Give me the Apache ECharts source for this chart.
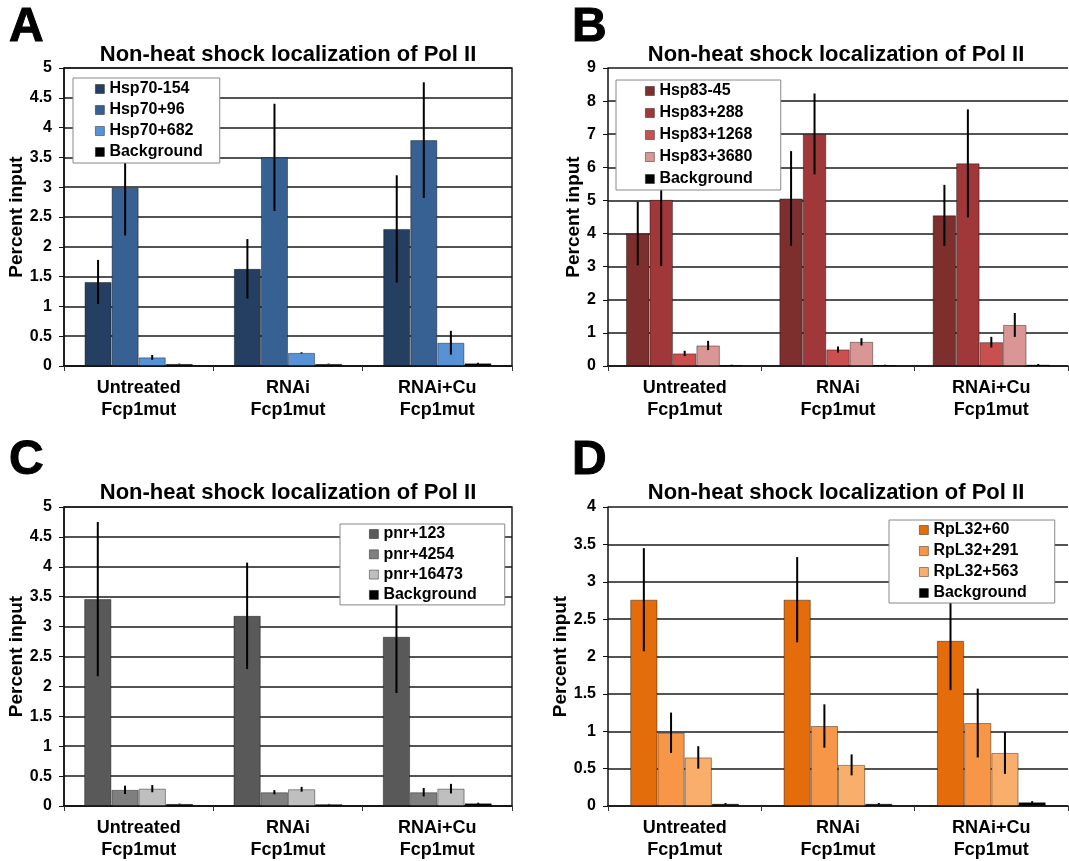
<!DOCTYPE html>
<html>
<head>
<meta charset="utf-8">
<script src="https://cdn.jsdelivr.net/npm/echarts@6/dist/echarts.min.js"></script>
<style>
  html, body { margin: 0; padding: 0; background: #fff; }
  #chart { width: 1069px; height: 861px; }
</style>
</head>
<body>
<div id="chart"></div>
<script>
// categories shared by all four panels
const categories = ['Untreated\nFcp1mut', 'RNAi\nFcp1mut', 'RNAi+Cu\nFcp1mut'];
const chartTitle = 'Non-heat shock localization of Pol II';

// A: Hsp70
const hsp70Names = ['Hsp70-154', 'Hsp70+96', 'Hsp70+682', 'Background'];
const hsp70Values = [[1.41, 1.63, 2.30], [2.99, 3.50, 3.79], [0.145, 0.22, 0.39], [0.035, 0.035, 0.045]];
const hsp70Errors = [[0.37, 0.50, 0.90], [0.80, 0.90, 0.97], [0.04, 0.01, 0.20], [0.005, 0.005, 0.01]];

// B: Hsp83
const hsp83Names = ['Hsp83-45', 'Hsp83+288', 'Hsp83+1268', 'Hsp83+3680', 'Background'];
const hsp83Values = [[4.0, 5.06, 4.55], [5.02, 7.01, 6.12], [0.38, 0.50, 0.72], [0.62, 0.73, 1.24], [0.03, 0.03, 0.04]];
const hsp83Errors = [[0.96, 1.43, 0.92], [2.0, 1.22, 1.63], [0.08, 0.09, 0.16], [0.14, 0.11, 0.36], [0.01, 0.01, 0.02]];

// C: pnr
const pnrNames = ['pnr+123', 'pnr+4254', 'pnr+16473', 'Background'];
const pnrValues = [[3.46, 3.18, 2.83], [0.27, 0.23, 0.23], [0.29, 0.28, 0.29], [0.035, 0.03, 0.045]];
const pnrErrors = [[1.29, 0.89, 0.94], [0.07, 0.035, 0.07], [0.06, 0.04, 0.08], [0.005, 0.005, 0.01]];

// D: RpL32
const rplNames = ['RpL32+60', 'RpL32+291', 'RpL32+563', 'Background'];
const rplValues = [[2.76, 2.76, 2.21], [0.98, 1.07, 1.11], [0.65, 0.55, 0.71], [0.03, 0.03, 0.05]];
const rplErrors = [[0.69, 0.57, 0.66], [0.27, 0.29, 0.46], [0.15, 0.14, 0.28], [0.01, 0.01, 0.015]];

// y axis ranges
const yMax = [5, 9, 5, 4];
const yStep = [0.5, 1, 0.5, 0.5];

const FONT = 'Liberation Sans, Arial, Helvetica, sans-serif';

const panels = [
  {
    letter: 'A', names: hsp70Names, values: hsp70Values, errors: hsp70Errors,
    colors: ['#243F61', '#376093', '#5791D6', '#000000'],
    grid: { left: 64, top: 68, width: 448, height: 298, show: true, borderColor: '#222', borderWidth: 1.5 },
    gap: 0.275, nameGap: 38, titleX: 288, titleY: 44, letterX: 9, letterY: 28,
    legend: { left: 73, top: 78, padding: [3, 17, 3, 22], itemGap: 5 }
  },
  {
    letter: 'B', names: hsp83Names, values: hsp83Values, errors: hsp83Errors,
    colors: ['#7C2F2D', '#A0383A', '#C9504E', '#D99694', '#000000'],
    grid: { left: 608, top: 68, width: 460, height: 298, show: false },
    gap: 0.235, nameGap: 25, titleX: 836, titleY: 44, letterX: 572, letterY: 28,
    legend: { left: 616, top: 80, padding: [3, 28, 3, 29], itemGap: 6 }
  },
  {
    letter: 'C', names: pnrNames, values: pnrValues, errors: pnrErrors,
    colors: ['#595959', '#7F7F7F', '#BFBFBF', '#000000'],
    grid: { left: 64, top: 507, width: 448, height: 299, show: true, borderColor: '#222', borderWidth: 1.5 },
    gap: 0.27, nameGap: 38, titleX: 288, titleY: 482, letterX: 9, letterY: 461,
    legend: { left: 340, top: 524, padding: [2, 28, 2, 29], itemGap: 4.3 }
  },
  {
    letter: 'D', names: rplNames, values: rplValues, errors: rplErrors,
    colors: ['#E46C0A', '#F79646', '#F9AE6C', '#000000'],
    grid: { left: 608, top: 507, width: 460, height: 299, show: false },
    gap: 0.29, nameGap: 36, titleX: 836, titleY: 482, letterX: 572, letterY: 461,
    legend: { left: 889, top: 520, padding: [2, 28, 2, 30], itemGap: 5 }
  }
];

const grids = [], xAxes = [], yAxes = [], series = [], legends = [], titles = [], graphics = [];

panels.forEach((p, k) => {
  grids.push(p.grid);
  xAxes.push({
    type: 'category', gridIndex: k, data: categories,
    axisLine: { lineStyle: { color: '#111', width: 1.5 } },
    axisTick: { show: true, length: 5, lineStyle: { color: '#333', width: 1 } },
    axisLabel: { color: '#000', fontFamily: FONT, fontWeight: 'bold', fontSize: 18, lineHeight: 22, margin: 11 }
  });
  yAxes.push({
    type: 'value', gridIndex: k, min: 0, max: yMax[k], interval: yStep[k],
    name: 'Percent input', nameLocation: 'middle', nameGap: p.nameGap,
    nameTextStyle: { color: '#000', fontFamily: FONT, fontWeight: 'bold', fontSize: 19 },
    axisLine: { show: true, lineStyle: { color: '#111', width: 1.5 } },
    axisTick: { show: true, length: 5, lineStyle: { color: '#111', width: 1 } },
    axisLabel: { color: '#000', fontFamily: FONT, fontWeight: 'bold', fontSize: 16, margin: 12 },
    splitLine: { lineStyle: { color: '#1a1a1a', width: 1.6 } }
  });
  const n = p.names.length;
  p.names.forEach((name, i) => {
    series.push({
      type: 'bar', name: name, xAxisIndex: k, yAxisIndex: k,
      data: p.values[i], barGap: '0%', barCategoryGap: (p.gap * 100) + '%',
      itemStyle: { color: p.colors[i], borderColor: 'rgba(0,0,0,0.4)', borderWidth: 1 },
      silent: true, animation: false
    });
  });
  p.names.forEach((name, i) => {
    const off = i - (n - 1) / 2;
    series.push({
      type: 'custom', name: p.letter + '-err-' + i, xAxisIndex: k, yAxisIndex: k, z: 3,
      silent: true, animation: false,
      data: p.values[i].map((v, j) => [j, v - p.errors[i][j], v + p.errors[i][j]]),
      renderItem: (params, api) => {
        const catW = api.size([1, 0])[0];
        const barW = catW * (1 - p.gap) / n;
        const lo = api.coord([api.value(0), api.value(1)]);
        const hi = api.coord([api.value(0), api.value(2)]);
        const x = lo[0] + off * barW;
        return {
          type: 'line',
          shape: { x1: x, y1: lo[1], x2: x, y2: hi[1] },
          style: { stroke: '#000', lineWidth: 2 }
        };
      }
    });
  });
  legends.push(Object.assign({
    orient: 'vertical', data: p.names, selectedMode: false, icon: 'rect',
    backgroundColor: '#fff', borderColor: '#888', borderWidth: 1,
    itemWidth: 9, itemHeight: 9,
    itemStyle: { borderColor: 'rgba(0,0,0,0.5)', borderWidth: 0.8 },
    textStyle: { color: '#000', fontFamily: FONT, fontWeight: 'bold', fontSize: 16, lineHeight: 16 }
  }, p.legend));
  titles.push({
    text: chartTitle, left: p.titleX, top: p.titleY, textAlign: 'center', padding: 0,
    textStyle: { color: '#000', fontFamily: FONT, fontWeight: 'bold', fontSize: 22 }
  });
  graphics.push({
    type: 'text', x: p.letterX, y: p.letterY,
    style: { text: p.letter, font: 'bold 48px ' + FONT, fill: '#000', stroke: '#000', lineWidth: 1, textVerticalAlign: 'middle' }
  });
});

const chart = echarts.init(document.getElementById('chart'));
chart.setOption({
  animation: false,
  backgroundColor: '#fff',
  textStyle: { fontFamily: FONT },
  title: titles,
  legend: legends,
  grid: grids,
  xAxis: xAxes,
  yAxis: yAxes,
  series: series,
  graphic: graphics
});
</script>
</body>
</html>
